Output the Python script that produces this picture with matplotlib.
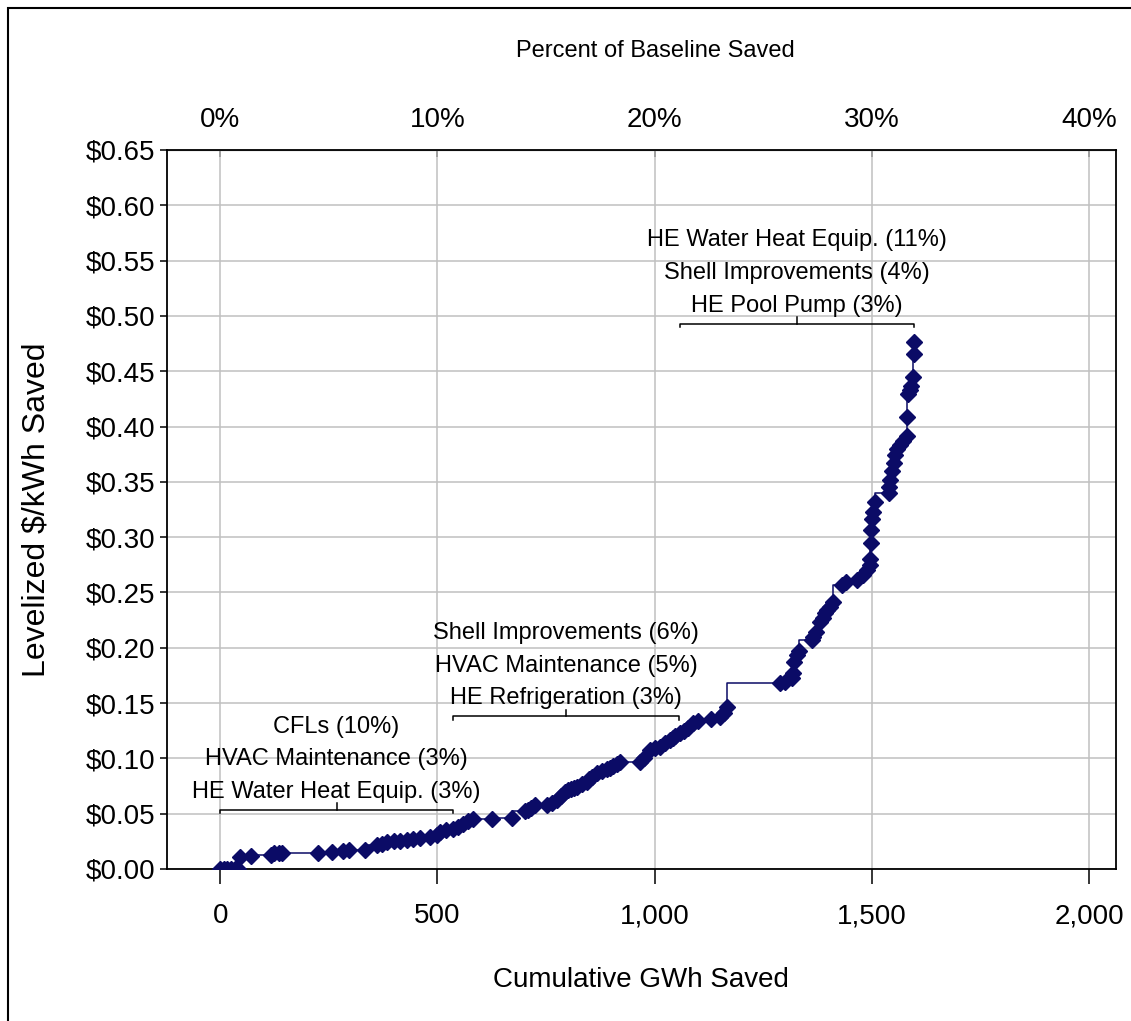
import matplotlib
matplotlib.use('Agg')
import matplotlib.pyplot as plt
from matplotlib.ticker import FuncFormatter, MultipleLocator
from matplotlib.patches import Rectangle

plt.rcParams['font.family'] = ['Liberation Sans', 'DejaVu Sans']

# кумулятивная экономия (GWh) и стоимость ($/kWh)
gwh_saved = [0, 8, 15, 25, 35, 42, 46, 70, 117, 125, 135, 142, 226, 257, 283, 296,
             334, 361, 372, 384, 400, 414, 430, 445, 460, 483, 500, 506, 520, 536,
             548, 559, 570, 582, 626, 672, 702, 708, 715, 725, 752, 765, 775, 785,
             794, 801, 808, 815, 822, 834, 844, 850, 856, 868, 880, 890, 898, 905,
             913, 921, 967, 975, 990, 1000, 1013, 1025, 1036, 1042, 1048, 1059, 1068,
             1077, 1089, 1100, 1130, 1151, 1160, 1167, 1289, 1300, 1316, 1319, 1320,
             1328, 1333, 1362, 1365, 1372, 1381, 1387, 1392, 1398, 1404, 1411, 1431,
             1440, 1466, 1480, 1490, 1496, 1497, 1498, 1498, 1500, 1502, 1508, 1540,
             1540, 1542, 1546, 1550, 1553, 1558, 1565, 1572, 1581, 1581, 1584, 1588,
             1590, 1595, 1596, 1596]
cost_kwh = [0.000, 0.000, 0.000, 0.000, 0.000, 0.000, 0.011, 0.012, 0.013, 0.014,
            0.014, 0.014, 0.014, 0.015, 0.016, 0.017, 0.017, 0.022, 0.023, 0.024,
            0.025, 0.025, 0.026, 0.027, 0.028, 0.029, 0.031, 0.033, 0.035, 0.036,
            0.038, 0.041, 0.043, 0.045, 0.045, 0.046, 0.052, 0.053, 0.055, 0.058,
            0.058, 0.060, 0.062, 0.066, 0.070, 0.071, 0.072, 0.073, 0.074, 0.077,
            0.079, 0.081, 0.083, 0.087, 0.089, 0.090, 0.091, 0.093, 0.095, 0.097,
            0.097, 0.100, 0.108, 0.109, 0.110, 0.114, 0.117, 0.118, 0.120, 0.123,
            0.125, 0.127, 0.132, 0.134, 0.136, 0.137, 0.141, 0.146, 0.168, 0.169,
            0.173, 0.177, 0.187, 0.193, 0.197, 0.207, 0.210, 0.214, 0.223, 0.227,
            0.231, 0.234, 0.237, 0.241, 0.257, 0.259, 0.261, 0.266, 0.270, 0.275,
            0.280, 0.295, 0.306, 0.316, 0.323, 0.332, 0.340, 0.345, 0.352, 0.360,
            0.367, 0.374, 0.380, 0.383, 0.387, 0.391, 0.409, 0.429, 0.433, 0.437,
            0.445, 0.466, 0.476]

baseline_gwh = 5000

# группы мер (скобки с подписями)
group_start = [0, 536, 1059]
group_end = [536, 1056, 1596]
group_level = [0.0533, 0.138, 0.493]
group_labels = [
    ['CFLs (10%)', 'HVAC Maintenance (3%)', 'HE Water Heat Equip. (3%)'],
    ['Shell Improvements (6%)', 'HVAC Maintenance (5%)', 'HE Refrigeration (3%)'],
    ['HE Water Heat Equip. (11%)', 'Shell Improvements (4%)', 'HE Pool Pump (3%)'],
]

navy = '#0b0b66'

fig = plt.figure(figsize=(11.31, 10.21), dpi=100)
ax = fig.add_axes([0.1474, 0.1489, 0.8393, 0.7042])

ax.plot(gwh_saved, cost_kwh, drawstyle='steps-pre', color=navy, lw=1.1,
        marker='D', markersize=7.8, markerfacecolor=navy, markeredgecolor=navy, zorder=3)

ax.set_xlim(-123, 2062)
ax.set_ylim(0, 0.65)
ax.xaxis.set_major_locator(MultipleLocator(500))
ax.yaxis.set_major_locator(MultipleLocator(0.05))
ax.xaxis.set_major_formatter(FuncFormatter(lambda v, p: f'{v:,.0f}'))
ax.yaxis.set_major_formatter(FuncFormatter(lambda v, p: f'${v:.2f}'))
ax.grid(True, color='#c0c0c0', lw=1.1)
ax.set_axisbelow(True)
for s in ax.spines.values():
    s.set_linewidth(1.3)
ax.tick_params(axis='x', direction='out', length=10.5, width=1.1, pad=14, labelsize=20)
ax.tick_params(axis='y', direction='out', length=5, width=1.1, pad=3.5, labelsize=20)
ax.set_xlabel('Cumulative GWh Saved', fontsize=20, labelpad=27)
ax.set_ylabel('Levelized $/kWh Saved', fontsize=23, labelpad=24)

# верхняя ось в процентах от базового уровня
ax2 = ax.secondary_xaxis('top', functions=(lambda x: x / baseline_gwh * 100,
                                           lambda p: p * baseline_gwh / 100))
ax2.set_xticks([0, 10, 20, 30, 40])
ax2.xaxis.set_major_formatter(FuncFormatter(lambda v, p: f'{v:.0f}%'))
ax2.tick_params(direction='in', length=5, width=1.1, pad=12, labelsize=20)
ax2.set_xlabel('Percent of Baseline Saved', fontsize=17, labelpad=36)
ax2.xaxis.label.set_x(0.515)

# скобки групп
for x0, x1, y, labels in zip(group_start, group_end, group_level, group_labels):
    xm = (x0 + x1) / 2
    ax.plot([x0, x0, x1, x1], [y - 0.003, y, y, y - 0.003], color='black', lw=1.1, zorder=4)
    ax.plot([xm, xm], [y, y + 0.006], color='black', lw=1.1, zorder=4)
    for i, txt in enumerate(labels[::-1]):
        ax.annotate(txt, (xm, y), xytext=(0, 13 + 23.5 * i), textcoords='offset points',
                    ha='center', va='center', fontsize=17, zorder=5)

# рамка вокруг всего рисунка
fig.patches.append(Rectangle((8 / 1131, -0.01), 1.02, 1 - 8 / 1021 + 0.01,
                             transform=fig.transFigure, fill=False,
                             edgecolor='black', lw=1.5))

fig.savefig('out.png', dpi=100)
plt.close(fig)
